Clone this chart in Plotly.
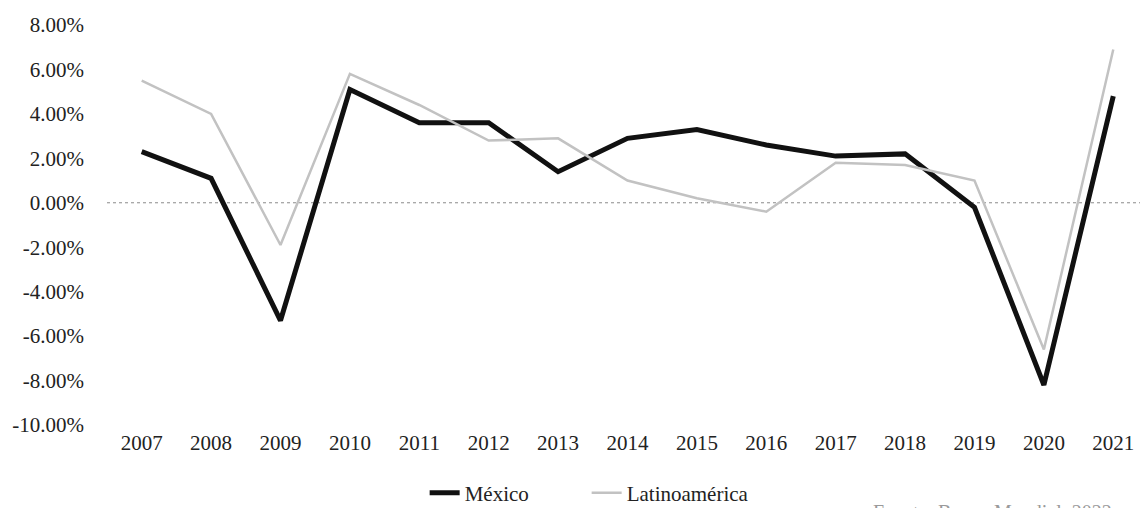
import plotly.graph_objects as go

# Crecimiento anual del PIB (%)
years = list(range(2007, 2022))
mexico = [2.3, 1.1, -5.3, 5.1, 3.6, 3.6, 1.4, 2.9, 3.3, 2.6, 2.1, 2.2, -0.2, -8.2, 4.8]
latinoamerica = [5.5, 4.0, -1.9, 5.8, 4.4, 2.8, 2.9, 1.0, 0.2, -0.4, 1.8, 1.7, 1.0, -6.6, 6.9]

y_tickvals = [8, 6, 4, 2, 0, -2, -4, -6, -8, -10]
y_ticktext = ["8.00%", "6.00%", "4.00%", "2.00%", "0.00%",
              "-2.00%", "-4.00%", "-6.00%", "-8.00%", "-10.00%"]

SERIF = "Liberation Serif"
INK = "#222222"

fig = go.Figure()
fig.add_trace(go.Scatter(
    x=years, y=mexico, name="México", mode="lines",
    line=dict(color="#111111", width=5),
))
fig.add_trace(go.Scatter(
    x=years, y=latinoamerica, name="Latinoamérica", mode="lines",
    line=dict(color="#c2c2c2", width=2.5),
))

# dotted baseline at 0 %
fig.add_shape(type="line", xref="paper", yref="y", x0=0, x1=1, y0=0, y1=0,
              line=dict(color="#8a8a8a", width=1, dash="dot"), layer="below")

fig.add_annotation(
    text="Fuente: Banco Mundial, 2022", xref="paper", yref="paper",
    x=0.740, y=-0.185, xanchor="left", yanchor="top", showarrow=False,
    font=dict(family=SERIF, size=20, color="#9a9a9a"),
)

fig.update_layout(
    width=1140, height=508,
    margin=dict(l=107, r=0, t=25, b=83, autoexpand=False),
    paper_bgcolor="white", plot_bgcolor="white",
    font=dict(family=SERIF, size=21, color=INK),
    showlegend=True,
    legend=dict(orientation="h", x=0.3075, xanchor="left", y=-0.17, yanchor="middle",
                font=dict(family=SERIF, size=21, color=INK),
                bgcolor="rgba(0,0,0,0)", entrywidth=117, entrywidthmode="pixels"),
)
fig.update_xaxes(
    range=[2006.5, 2021.385], tickvals=years, ticktext=[str(y) for y in years],
    showgrid=False, zeroline=False, showline=False, ticks="",
    ticklabelstandoff=3,
    tickfont=dict(family=SERIF, size=21, color=INK),
)
fig.update_yaxes(
    range=[-10, 8], tickvals=y_tickvals, ticktext=y_ticktext,
    showgrid=False, zeroline=False, showline=False, ticks="",
    ticklabelstandoff=22,
    tickfont=dict(family=SERIF, size=21, color=INK),
)

fig.write_html("out.html")
